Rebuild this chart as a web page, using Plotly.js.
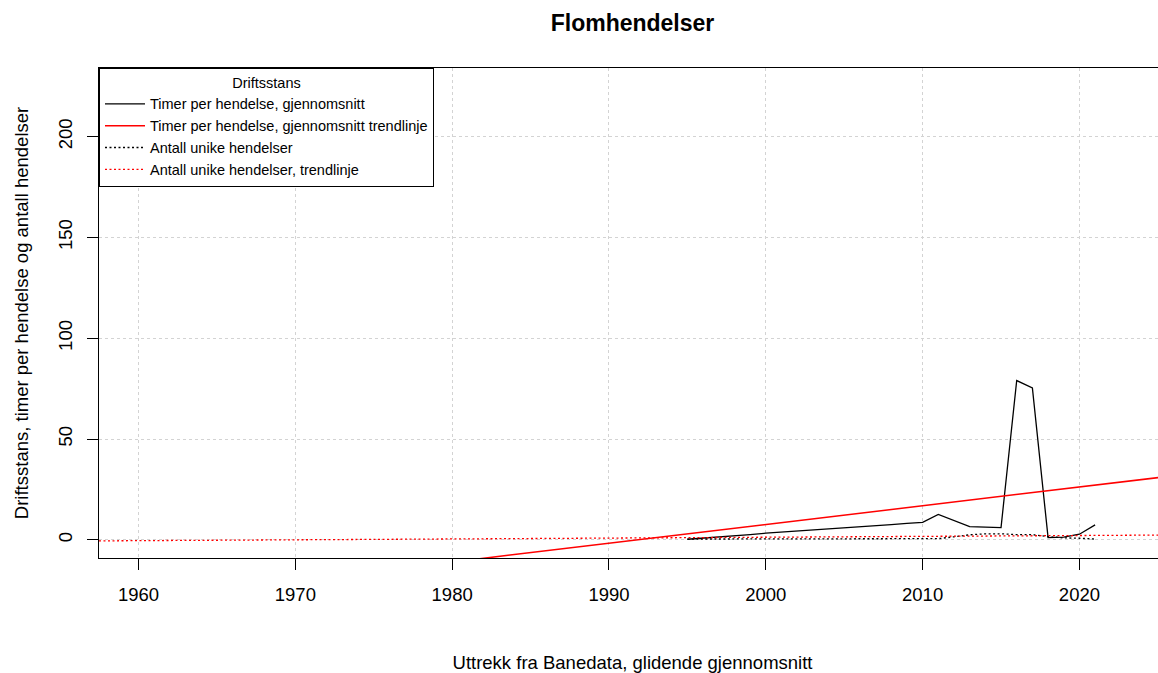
<!DOCTYPE html>
<html>
<head>
<meta charset="utf-8">
<script src="https://cdn.plot.ly/plotly-3.0.1.min.js"></script>
<style>
  html, body { margin: 0; padding: 0; overflow: hidden; background: #fff; }
  #chart { width: 1166px; height: 673px; }
</style>
</head>
<body>
<div id="chart"></div>
<script>
// ---- data ----
const years = [1995,1996,1997,1998,1999,2000,2001,2002,2003,2004,2005,2006,2007,2008,2009,2010,2011,2012,2013,2014,2015,2016,2017,2018,2019,2020,2021];
const timerPerHendelse = [0.3,0.8,1.3,1.8,2.6,3.3,3.8,4.3,4.8,5.3,5.8,6.4,7.0,7.6,8.2,8.7,12.6,9.5,6.6,6.3,6.1,79.0,75.3,1.1,1.4,2.8,7.4];
const antallHendelser = [0.4,0.4,0.4,0.4,0.4,0.4,0.4,0.4,0.4,0.4,0.4,0.4,0.4,0.4,0.4,0.5,0.6,1.5,2.5,3.0,3.0,2.6,2.6,1.6,1.0,0.8,0.4];

// linear trend lines (value at year 2000 and slope per year)
const trendTimerAt2000 = 7.6;
const trendTimerSlope = 0.93;
const trendAntallAt2000 = 1.3;
const trendAntallSlope = 0.0426;

const seriesNames = [
  "Timer per hendelse, gjennomsnitt",
  "Timer per hendelse, gjennomsnitt trendlinje",
  "Antall unike hendelser",
  "Antall unike hendelser, trendlinje"
];
const legendTitle = "Driftsstans";
const chartTitle = "Flomhendelser";
const xTitle = "Uttrekk fra Banedata, glidende gjennomsnitt";
const yTitle = "Driftsstans, timer per hendelse og antall hendelser";

const xRange = [1957.48, 2025.52];
const yRange = [-9, 234];

function trend(at2000, slope) {
  const xs = [xRange[0], xRange[1]];
  return { x: xs, y: xs.map(x => at2000 + slope * (x - 2000)) };
}
const t1 = trend(trendTimerAt2000, trendTimerSlope);
const t2 = trend(trendAntallAt2000, trendAntallSlope);

const FONT = "Liberation Sans, Arial, sans-serif";

const traces = [
  { x: years, y: timerPerHendelse, type: "scatter", mode: "lines", name: seriesNames[0],
    line: { color: "#000000", width: 1.3 } },
  { x: t1.x, y: t1.y, type: "scatter", mode: "lines", name: seriesNames[1],
    line: { color: "#ff0000", width: 1.5 } },
  { x: years, y: antallHendelser, type: "scatter", mode: "lines", name: seriesNames[2],
    line: { color: "#000000", width: 1.3, dash: "2px,2.5px" } },
  { x: t2.x, y: t2.y, type: "scatter", mode: "lines", name: seriesNames[3],
    line: { color: "#ff0000", width: 1.3, dash: "2px,2.5px" } }
];

const layout = {
  width: 1166, height: 673,
  margin: { l: 99, r: 0, t: 68, b: 115, pad: 0 },
  paper_bgcolor: "#fff", plot_bgcolor: "#fff",
  font: { family: FONT, color: "#000", size: 18.5 },
  title: { text: "<b>" + chartTitle + "</b>", font: { family: FONT, size: 23, color: "#000" },
           x: 0.5, xref: "paper", xanchor: "center", y: 1 - 23 / 673, yref: "container", yanchor: "middle" },
  showlegend: true,
  legend: {
    x: 0, y: 1, xref: "paper", yref: "paper", xanchor: "left", yanchor: "top",
    bgcolor: "#fff", bordercolor: "#000", borderwidth: 1,
    font: { family: FONT, size: 14.5, color: "#000" },
    itemwidth: 40,
    entrywidth: 310,
    title: { text: legendTitle, side: "top center", font: { family: FONT, size: 14.5, color: "#000" } },
    tracegroupgap: 0
  },
  xaxis: {
    range: xRange, tick0: 1960, dtick: 10, tickmode: "linear",
    showline: true, mirror: true, linecolor: "#000", linewidth: 1,
    ticks: "outside", ticklen: 11, tickwidth: 1, tickcolor: "#000",
    ticklabelstandoff: 9,
    showgrid: true, gridcolor: "#d3d3d3", griddash: "dot", gridwidth: 1,
    zeroline: false,
    tickfont: { family: FONT, size: 18.5, color: "#000" },
    title: { text: xTitle, font: { family: FONT, size: 18.5, color: "#000" }, standoff: 51 },
    automargin: false
  },
  yaxis: {
    range: yRange, tick0: 0, dtick: 50, tickmode: "linear",
    showline: true, mirror: true, linecolor: "#000", linewidth: 1,
    ticks: "outside", ticklen: 11, tickwidth: 1, tickcolor: "#000",
    tickangle: -90, ticklabelstandoff: 8,
    showgrid: true, gridcolor: "#d3d3d3", griddash: "dot", gridwidth: 1,
    zeroline: false,
    tickfont: { family: FONT, size: 18.5, color: "#000" },
    title: { text: yTitle, font: { family: FONT, size: 18.5, color: "#000" }, standoff: 21 },
    automargin: false
  }
};

Plotly.newPlot("chart", traces, layout, { staticPlot: true, displayModeBar: false });
</script>
</body>
</html>
